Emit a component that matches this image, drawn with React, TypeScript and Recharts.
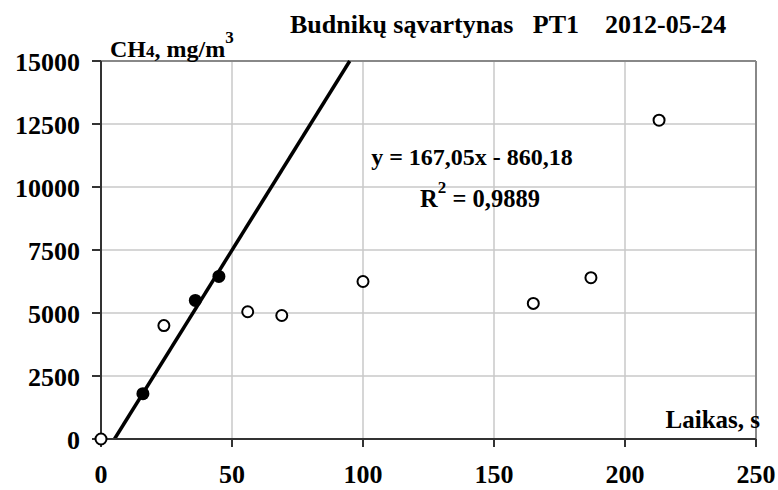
import React from 'react'
import {
  ScatterChart, Scatter, XAxis, YAxis, CartesianGrid, ReferenceLine,
} from 'recharts'

// filled points used for the fit
const fitPoints = [
  { t: 16, c: 1800 },
  { t: 36, c: 5500 },
  { t: 45, c: 6450 },
]

// other measurements
const otherPoints = [
  { t: 0, c: 0 },
  { t: 24, c: 4500 },
  { t: 56, c: 5050 },
  { t: 69, c: 4900 },
  { t: 100, c: 6250 },
  { t: 165, c: 5380 },
  { t: 187, c: 6400 },
  { t: 213, c: 12650 },
]

const xTicks = [0, 50, 100, 150, 200, 250]
const yTicks = [0, 2500, 5000, 7500, 10000, 12500, 15000]

const slope = 167.05
const intercept = -860.18
const yMax = 15000

const font = '"Liberation Serif", "Times New Roman", serif'

const XTick = (p: any) => (
  <text x={p.x} y={p.y + 36} textAnchor="middle" fontFamily={font} fontWeight="bold" fontSize={26} fill="#000">
    {p.payload.value}
  </text>
)

const YTick = (p: any) => (
  <text x={p.x - 12} y={p.y + 10} textAnchor="end" fontFamily={font} fontWeight="bold" fontSize={26} fill="#000">
    {p.payload.value}
  </text>
)

export default function App() {
  const trend = [
    { x: -intercept / slope, y: 0 },
    { x: (yMax - intercept) / slope, y: yMax },
  ]
  return (
    <div style={{ position: 'absolute', left: 0, top: 0, width: 778, height: 490, background: '#fff' }}>
      <ScatterChart width={778} height={490} margin={{ top: 61, right: 22, bottom: 0, left: 0 }}>
        <CartesianGrid stroke="#c8c8c8" strokeWidth={1.5} />
        <XAxis
          type="number"
          dataKey="t"
          domain={[0, 250]}
          ticks={xTicks}
          height={51}
          tickSize={8}
          tickMargin={0}
          tick={<XTick />}
          axisLine={{ stroke: '#333', strokeWidth: 2 }}
          tickLine={{ stroke: '#333', strokeWidth: 2 }}
        />
        <YAxis
          type="number"
          dataKey="c"
          domain={[0, 15000]}
          ticks={yTicks}
          width={101}
          tickSize={9}
          tickMargin={0}
          tick={<YTick />}
          axisLine={{ stroke: '#333', strokeWidth: 2 }}
          tickLine={{ stroke: '#333', strokeWidth: 2 }}
        />
        <ReferenceLine y={15000} stroke="#888" strokeWidth={2} />
        <ReferenceLine x={250} stroke="#888" strokeWidth={2} />
        <ReferenceLine
          segment={trend}
          stroke="#000"
          strokeWidth={3.5}
          ifOverflow="visible"
        />
        <Scatter
          data={otherPoints}
          isAnimationActive={false}
          shape={(p: any) => (
            <circle cx={p.cx} cy={p.cy} r={5.5} fill="#fff" stroke="#000" strokeWidth={2} />
          )}
        />
        <Scatter
          data={fitPoints}
          isAnimationActive={false}
          shape={(p: any) => <circle cx={p.cx} cy={p.cy} r={6.5} fill="#000" />}
        />
      </ScatterChart>
      <svg
        width={778}
        height={490}
        style={{ position: 'absolute', left: 0, top: 0, pointerEvents: 'none' }}
        fontFamily={font}
        fontWeight="bold"
        fontSize={24}
      >
        <text x={290} y={33} fontSize={26} xmlSpace="preserve">Budnikų sąvartynas   PT1    2012-05-24</text>
        <text x={110} y={57}>
          CH<tspan fontSize={17}>4</tspan>, mg/m<tspan fontSize={17} dy={-14}>3</tspan>
        </text>
        <text x={472} y={165} textAnchor="middle">y = 167,05x - 860,18</text>
        <text x={480} y={207} textAnchor="middle" fontSize={24.5}>
          R<tspan fontSize={17} dy={-14}>2</tspan><tspan dy={14}> = 0,9889</tspan>
        </text>
        <text x={760} y={428} textAnchor="end" fontSize={25}>Laikas, s</text>
      </svg>
    </div>
  )
}
